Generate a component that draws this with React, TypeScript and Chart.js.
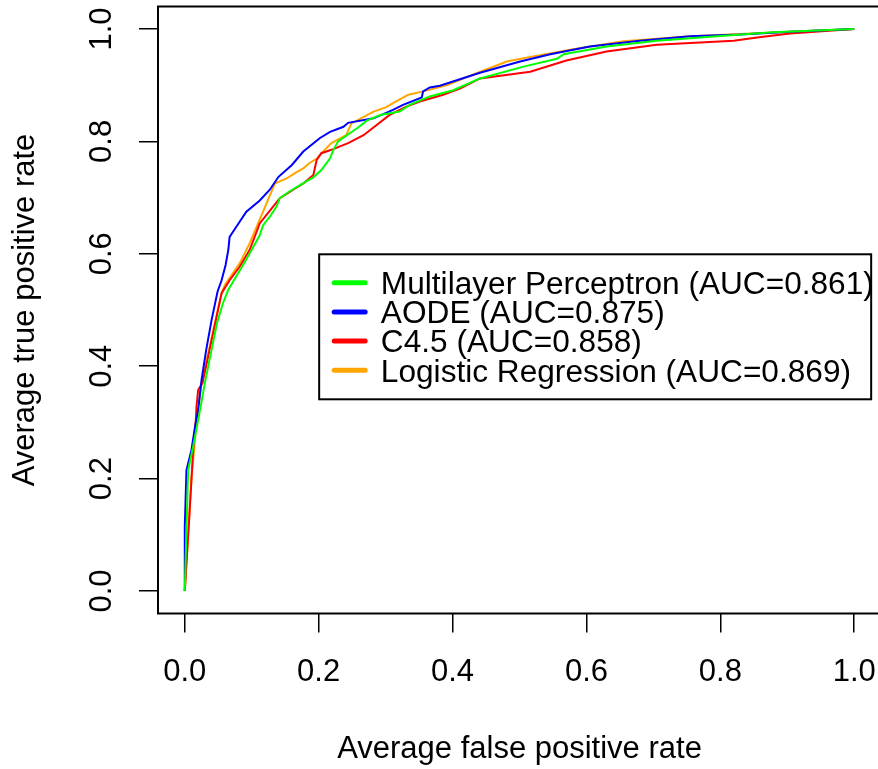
import React, { useEffect, useRef } from "react";
import { Chart, registerables } from "chart.js";

Chart.register(...registerables);

// ---------- data ----------
const seriesLabels = [
  "Multilayer Perceptron (AUC=0.861)",
  "AODE (AUC=0.875)",
  "C4.5 (AUC=0.858)",
  "Logistic Regression (AUC=0.869)",
];
const seriesColors = ["#00FF00", "#0000FF", "#FF0000", "#FFA500"];

const mlpFpr = [0, 0.005, 0.0125, 0.02, 0.03, 0.04, 0.048, 0.057, 0.065, 0.075, 0.087, 0.1, 0.112, 0.117, 0.127, 0.137, 0.142, 0.155, 0.172, 0.192, 0.204, 0.217, 0.222, 0.229, 0.247, 0.257, 0.272, 0.292, 0.321, 0.336, 0.366, 0.401, 0.441, 0.506, 0.556, 0.566, 0.63, 0.705, 0.805, 0.879, 1];
const mlpTpr = [0, 0.215, 0.257, 0.304, 0.37, 0.429, 0.476, 0.512, 0.536, 0.556, 0.58, 0.607, 0.633, 0.651, 0.666, 0.684, 0.699, 0.71, 0.722, 0.736, 0.749, 0.77, 0.785, 0.8, 0.815, 0.823, 0.837, 0.847, 0.853, 0.865, 0.88, 0.891, 0.912, 0.933, 0.947, 0.955, 0.969, 0.979, 0.988, 0.994, 1];

const aodeFpr = [0, 0, 0.0025, 0.01, 0.015, 0.02, 0.025, 0.032, 0.04, 0.049, 0.055, 0.061, 0.065, 0.067, 0.077, 0.092, 0.112, 0.127, 0.14, 0.16, 0.177, 0.202, 0.217, 0.237, 0.244, 0.282, 0.311, 0.326, 0.354, 0.356, 0.366, 0.381, 0.441, 0.501, 0.546, 0.605, 0.68, 0.755, 0.83, 0.904, 1];
const aodeTpr = [0, 0.114, 0.215, 0.251, 0.29, 0.322, 0.375, 0.429, 0.482, 0.533, 0.553, 0.58, 0.607, 0.63, 0.648, 0.675, 0.695, 0.714, 0.737, 0.758, 0.782, 0.806, 0.817, 0.826, 0.833, 0.841, 0.856, 0.865, 0.878, 0.889, 0.896, 0.899, 0.922, 0.942, 0.955, 0.969, 0.979, 0.987, 0.99, 0.995, 1];

const c45Fpr = [0, 0.0065, 0.0125, 0.0165, 0.0175, 0.02, 0.0265, 0.055, 0.067, 0.082, 0.097, 0.112, 0.12, 0.142, 0.162, 0.177, 0.192, 0.197, 0.204, 0.219, 0.244, 0.267, 0.306, 0.331, 0.351, 0.386, 0.411, 0.441, 0.516, 0.57, 0.63, 0.705, 0.82, 0.855, 0.904, 1];
const c45Tpr = [0, 0.126, 0.251, 0.304, 0.328, 0.358, 0.37, 0.53, 0.553, 0.577, 0.607, 0.654, 0.666, 0.699, 0.714, 0.725, 0.74, 0.767, 0.779, 0.785, 0.797, 0.811, 0.847, 0.862, 0.871, 0.883, 0.894, 0.912, 0.924, 0.944, 0.96, 0.972, 0.979, 0.985, 0.992, 1];

const lrFpr = [0, 0.005, 0.01, 0.0175, 0.025, 0.055, 0.06, 0.082, 0.097, 0.117, 0.1345, 0.152, 0.164, 0.177, 0.187, 0.198, 0.205, 0.219, 0.241, 0.249, 0.282, 0.301, 0.311, 0.334, 0.356, 0.391, 0.431, 0.481, 0.516, 0.58, 0.655, 0.755, 0.83, 0.904, 1];
const lrTpr = [0, 0.1, 0.2, 0.3, 0.37, 0.53, 0.545, 0.583, 0.619, 0.675, 0.725, 0.734, 0.743, 0.752, 0.762, 0.77, 0.78, 0.797, 0.811, 0.832, 0.853, 0.861, 0.868, 0.883, 0.889, 0.9, 0.919, 0.942, 0.95, 0.964, 0.978, 0.987, 0.991, 0.995, 1];

const xTicks = [0, 0.2, 0.4, 0.6, 0.8, 1.0];
const yTicks = [0, 0.2, 0.4, 0.6, 0.8, 1.0];
const xTitle = "Average false positive rate";
const yTitle = "Average true positive rate";
const legendAnchor = [0.2, 0.6]; // top-left corner of legend, in data units

const FONT = "'Liberation Sans', Arial, Helvetica, sans-serif";

const seriesX = [mlpFpr, aodeFpr, c45Fpr, lrFpr];
const seriesY = [mlpTpr, aodeTpr, c45Tpr, lrTpr];

const boxPlugin = {
  id: "rBox",
  afterDraw(chart: any) {
    const { ctx, chartArea: a } = chart;
    ctx.save();
    ctx.strokeStyle = "#000";
    ctx.lineWidth = 2;
    ctx.strokeRect(a.left, a.top, a.right - a.left, a.bottom - a.top);
    ctx.restore();
  },
};

const legendPlugin = {
  id: "rLegend",
  afterDraw(chart: any) {
    const { ctx } = chart;
    const xs = chart.scales.x;
    const ys = chart.scales.y;
    const left = xs.getPixelForValue(legendAnchor[0]) + 0.5;
    const top = ys.getPixelForValue(legendAnchor[1]) + 0.5;
    const w = 552;
    const h = 145;
    ctx.save();
    ctx.fillStyle = "#fff";
    ctx.fillRect(left, top, w, h);
    ctx.strokeStyle = "#000";
    ctx.lineWidth = 2;
    ctx.strokeRect(left, top, w, h);
    const ds = chart.data.datasets;
    ds.forEach((d: any, i: number) => {
      const rowY = top + 28.4 + i * 29.2;
      ctx.strokeStyle = d.borderColor;
      ctx.lineWidth = 5;
      ctx.lineCap = "round";
      ctx.beginPath();
      ctx.moveTo(left + 15, rowY);
      ctx.lineTo(left + 46, rowY);
      ctx.stroke();
      ctx.save();
      ctx.fillStyle = "#000";
      ctx.font = `31px ${FONT}`;
      ctx.textBaseline = "alphabetic";
      ctx.textAlign = "left";
      ctx.translate(left + 61.7, rowY + 11.4);
      ctx.scale(1.02, 1);
      ctx.fillText(d.label, 0, 0);
      ctx.restore();
    });
    ctx.restore();
  },
};

export default function App() {
  const ref = useRef<HTMLCanvasElement | null>(null);

  useEffect(() => {
    if (!ref.current) return;
    const font = { family: FONT, size: 31 };
    const chart = new Chart(ref.current, {
      type: "line",
      data: {
        datasets: seriesLabels.map((label, i) => ({
          label,
          data: seriesX[i].map((x, j) => ({ x, y: seriesY[i][j] })),
          borderColor: seriesColors[i],
          backgroundColor: seriesColors[i],
          borderWidth: 2,
          pointRadius: 0,
          tension: 0,
          fill: false,
        })),
      },
      options: {
        responsive: false,
        animation: false,
        events: [],
        layout: { padding: { left: 0, right: 3, top: 6.5, bottom: 0 } },
        plugins: {
          legend: { display: false },
          tooltip: { enabled: false },
        },
        scales: {
          x: {
            type: "linear",
            min: -0.04,
            max: 1.04,
            afterBuildTicks: (s: any) => {
              s.ticks = xTicks.map((v) => ({ value: v }));
            },
            afterFit: (s: any) => {
              s.height = 155.5;
              s.paddingLeft = 0;
              s.paddingRight = 0;
              s.paddingTop = 0;
              s.paddingBottom = 0;
            },
            grid: {
              display: true,
              drawOnChartArea: false,
              drawTicks: true,
              tickLength: 19,
              color: "#000",
              lineWidth: 1.5,
            },
            border: { display: false },
            ticks: {
              autoSkip: false,
              maxRotation: 0,
              minRotation: 0,
              padding: 21.8,
              color: "#000",
              font,
              callback: (v: any) => Number(v).toFixed(1),
            },
            title: {
              display: true,
              text: xTitle,
              color: "#000",
              font,
              padding: { top: 0, bottom: 1 },
            },
          },
          y: {
            type: "linear",
            min: -0.04,
            max: 1.04,
            afterBuildTicks: (s: any) => {
              s.ticks = yTicks.map((v) => ({ value: v }));
            },
            afterFit: (s: any) => {
              s.width = 158;
              s.paddingLeft = 0;
              s.paddingRight = 0;
              s.paddingTop = 0;
              s.paddingBottom = 0;
            },
            grid: {
              display: true,
              drawOnChartArea: false,
              drawTicks: true,
              tickLength: 19,
              color: "#000",
              lineWidth: 1.5,
            },
            border: { display: false },
            ticks: {
              autoSkip: false,
              minRotation: 90,
              maxRotation: 90,
              crossAlign: "center",
              padding: 14.5,
              color: "#000",
              font,
              callback: (v: any) => Number(v).toFixed(1),
            },
            title: {
              display: true,
              text: yTitle,
              color: "#000",
              font,
              padding: { top: 7, bottom: 0 },
            },
          },
        },
      } as any,
      plugins: [boxPlugin, legendPlugin],
    });
    return () => chart.destroy();
  }, []);

  return (
    <div
      style={{
        position: "fixed",
        left: 0,
        top: 0,
        width: 878,
        height: 769,
        overflow: "hidden",
        background: "#fff",
      }}
    >
      <canvas ref={ref} width={884} height={769} style={{ display: "block", width: 884, height: 769 }} />
    </div>
  );
}
